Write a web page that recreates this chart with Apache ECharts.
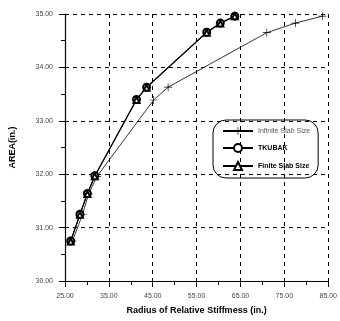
<!DOCTYPE html>
<html><head><meta charset="utf-8">
<script src="https://cdn.jsdelivr.net/npm/echarts@6/dist/echarts.min.js"></script>
<style>html,body{margin:0;padding:0;background:#fff}#c{width:340px;height:321px}</style>
</head><body><div id="c"></div>
<script>
const infiniteX = [26.7, 29.0, 30.4, 32.3, 45.2, 48.5, 71.0, 77.5, 83.7];
const infiniteY = [30.75, 31.25, 31.63, 31.96, 33.39, 33.63, 34.65, 34.83, 34.96];
const tkubakX = [26.3, 28.4, 30.1, 31.8, 41.3, 43.6, 57.3, 60.4, 63.7];
const tkubakY = [30.75, 31.25, 31.64, 31.97, 33.40, 33.63, 34.66, 34.83, 34.96];
const finiteX = [26.3, 28.4, 30.1, 31.8, 41.3, 43.6, 57.3, 60.4, 63.7];
const finiteY = [30.74, 31.24, 31.63, 31.96, 33.39, 33.62, 34.65, 34.82, 34.96];
const seriesNames = ['Infinite Slab Size', 'TKUBAK', 'Finite Slab Size'];
const xTitle = 'Radius of Relative Stiffmess (in.)';
const yTitle = 'AREA(in.)';

const zip = (xs, ys) => xs.map((x, i) => [x, ys[i]]);
const FONT = 'Liberation Sans, Arial, sans-serif';
const plus = 'path://M4.6,0h0.8v10h-0.8zM0,4.6h10v0.8h-10z';

const chart = echarts.init(document.getElementById('c'), null, {renderer: 'canvas'});
const axisCommon = {
  axisLine: {show: true, lineStyle: {color: '#000', width: 1.2}},
  axisTick: {show: true, length: 6, lineStyle: {color: '#000'}},
  minorTick: {show: true, splitNumber: 2, length: 4, lineStyle: {color: '#000'}},
  splitLine: {show: true, lineStyle: {color: '#000', type: [4, 4], width: 1}},
  axisLabel: {fontSize: 7, color: '#444', fontFamily: FONT, formatter: v => v.toFixed(2)},
  nameTextStyle: {fontSize: 9, fontWeight: 'bold', color: '#000', fontFamily: FONT}
};
chart.setOption({
  animation: false,
  grid: {left: 64, right: 8, top: 14, bottom: 40},
  xAxis: Object.assign({}, axisCommon, {
    type: 'value', min: 25, max: 85, interval: 10,
    name: xTitle, nameLocation: 'middle', nameGap: 25,
    axisLabel: Object.assign({}, axisCommon.axisLabel, {margin: 12})
  }),
  yAxis: Object.assign({}, axisCommon, {
    type: 'value', min: 30, max: 35, interval: 1,
    name: yTitle, nameLocation: 'middle', nameGap: 48,
    axisLabel: Object.assign({}, axisCommon.axisLabel, {margin: 12})
  }),
  legend: {
    orient: 'vertical', left: 213, top: 120,
    padding: [7, 8, 7, 9], itemGap: 8, itemWidth: 30, itemHeight: 10,
    borderColor: '#000', borderWidth: 1, borderRadius: 13,
    data: [
      {name: seriesNames[0], textStyle: {fontSize: 7, color: '#555', fontFamily: FONT}},
      {name: seriesNames[1], textStyle: {fontSize: 7, color: '#000', fontWeight: 'bold', fontFamily: FONT}},
      {name: seriesNames[2], textStyle: {fontSize: 7, color: '#000', fontWeight: 'bold', fontFamily: FONT}}
    ]
  },
  series: [
    {name: seriesNames[0], type: 'line', data: zip(infiniteX, infiniteY),
     symbol: plus, symbolSize: 8, lineStyle: {color: '#000', width: 0.8},
     itemStyle: {color: '#000'}, color: '#000'},
    {name: seriesNames[1], type: 'line', data: zip(tkubakX, tkubakY),
     symbol: 'emptyCircle', symbolSize: 7, lineStyle: {color: '#000', width: 1.2},
     itemStyle: {color: '#000', borderWidth: 0.9}, color: '#000'},
    {name: seriesNames[2], type: 'line', data: zip(finiteX, finiteY),
     symbol: 'emptyTriangle', symbolSize: 6, lineStyle: {color: '#000', width: 1},
     itemStyle: {color: '#000', borderWidth: 1.2}, color: '#000'}
  ]
});
</script></body></html>
